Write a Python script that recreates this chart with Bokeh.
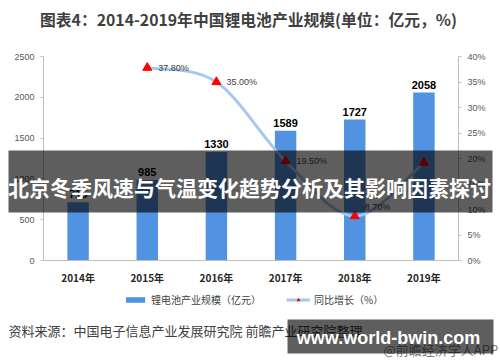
from bokeh.plotting import figure
from bokeh.models import (Range1d, LinearAxis, FixedTicker, PrintfTickFormatter, Label,
                          BoxAnnotation, Legend, LegendItem, ColumnDataSource)
from bokeh.core.properties import value
from bokeh.embed import file_html
from bokeh.resources import INLINE

# ---------------- data ----------------
years = ["2014年", "2015年", "2016年", "2017年", "2018年", "2019年"]
scale = [715, 985, 1330, 1589, 1727, 2058]          # 锂电池产业规模（亿元）
growth_years = ["2015年", "2016年", "2017年", "2018年", "2019年"]
growth = [37.8, 35.0, 19.5, 8.7, 19.2]              # 同比增长（%）
growth_labels = ["37.80%", "35.00%", "19.50%", "8.70%", ""]
left_ticks = [0, 500, 1000, 1500, 2000, 2500]
right_ticks = [0, 5, 10, 15, 20, 25, 30, 35, 40]

title_text = "图表4：2014-2019年中国锂电池产业规模(单位：亿元，%)"
source_text = "资料来源：中国电子信息产业发展研究院 前瞻产业研究院整理"
banner_text = "北京冬季风速与气温变化趋势分析及其影响因素探讨"
url_text = "www.world-bwin.com"
app_text = "@前瞻经济学人APP"

CJK = "Noto Sans CJK SC"
NUM = "Liberation Sans"

W, H = 500, 362
# plot area in canvas pixels
FL, FR, FT, FB = 43, 458, 56, 260

xpos = {y: i + 0.5 for i, y in enumerate(years)}
bar_x = [xpos[y] for y in years]
gx = [xpos[y] for y in growth_years]

nx = len(years)
ymax_l = left_ticks[-1]
ymax_r = right_ticks[-1]
xu = (FR - FL) / nx
yl = (FB - FT) / ymax_l
yr = (FB - FT) / ymax_r

p = figure(width=W, height=H, output_backend="svg", toolbar_location=None,
           x_range=Range1d(-FL / xu, nx + (W - FR) / xu),
           y_range=Range1d(-(H - FB) / yl, ymax_l + FT / yl),
           min_border=0)
p.extra_y_ranges = {"pct": Range1d(-(H - FB) / yr, ymax_r + FT / yr)}
p.title.visible = False
p.outline_line_color = None
p.grid.visible = False
p.xaxis.visible = False
p.yaxis.visible = False
p.background_fill_color = "white"
p.border_fill_color = "white"

def style_axis(ax, size="9px", font=NUM, color="#595959", bold=False):
    ax.minor_tick_line_color = None
    ax.axis_line_color = "#BFBFBF"
    ax.major_tick_line_color = "#BFBFBF"
    ax.major_label_text_font = font
    ax.major_label_text_font_size = size
    ax.major_label_text_color = color
    ax.major_label_text_font_style = "bold" if bold else "normal"

# bottom axis
xa = LinearAxis(ticker=FixedTicker(ticks=bar_x), fixed_location=0, bounds=(0, nx),
                major_label_overrides={xpos[y]: y for y in years})
style_axis(xa, size="10px", font=CJK, color="#262626", bold=True)
xa.major_tick_line_color = None
xa.major_tick_out = 0
xa.major_tick_in = 0
xa.major_label_standoff = 9
p.add_layout(xa, "below")

# left axis
la = LinearAxis(ticker=FixedTicker(ticks=left_ticks), fixed_location=0, bounds=(0, ymax_l))
style_axis(la)
la.major_tick_out = 3
la.major_tick_in = 0
la.major_label_standoff = 6
p.add_layout(la, "left")

# right axis
ra = LinearAxis(y_range_name="pct", ticker=FixedTicker(ticks=right_ticks),
                formatter=PrintfTickFormatter(format="%d%%"), fixed_location=nx,
                bounds=(0, ymax_r))
style_axis(ra)
ra.major_tick_out = 3
ra.major_tick_in = 0
ra.major_label_standoff = 6
p.add_layout(ra, "right")

# bars
bars = p.vbar(x=bar_x, top=scale, width=0.31, fill_color="#5192E1", line_color=None)
p.text(x=bar_x, y=scale, text=[str(v) for v in scale], text_align="center",
       text_baseline="bottom", y_offset=-4, text_font=value(NUM), text_font_style="bold",
       text_font_size="11px", text_color="#000000")

# smoothed growth curve (Catmull-Rom -> cubic Bezier through the data points)
n = len(growth)
bx0, by0, bx1, by1, cx0, cy0, cx1, cy1 = [], [], [], [], [], [], [], []
for i in range(n - 1):
    i0, i3 = max(i - 1, 0), min(i + 2, n - 1)
    bx0.append(gx[i]); by0.append(growth[i])
    bx1.append(gx[i + 1]); by1.append(growth[i + 1])
    cx0.append(gx[i] + (gx[i + 1] - gx[i0]) / 6.0)
    cy0.append(growth[i] + (growth[i + 1] - growth[i0]) / 6.0)
    cx1.append(gx[i + 1] - (gx[i3] - gx[i]) / 6.0)
    cy1.append(growth[i + 1] - (growth[i3] - growth[i]) / 6.0)
curve = p.bezier(x0=bx0, y0=by0, x1=bx1, y1=by1, cx0=cx0, cy0=cy0, cx1=cx1, cy1=cy1,
                 line_color="#A7C7EF", line_width=3, y_range_name="pct")
marks = p.scatter(x=gx, y=growth, marker="triangle", size=9, fill_color="#FF0000",
                  line_color="#FF0000", y_range_name="pct")

label_dx = [11, 10, 11, 10, 10]
label_dy = [0, 0, 0, -9, 0]
src = ColumnDataSource(dict(x=gx, y=growth, t=growth_labels, dx=label_dx, dy=label_dy))
p.text(x="x", y="y", text="t", x_offset="dx", y_offset="dy", source=src,
       text_baseline="middle", text_align="left", text_font=value(NUM),
       text_font_size="9px", text_color="#404040", y_range_name="pct")

# legend
legend = Legend(items=[LegendItem(label="锂电池产业规模（亿元）", renderers=[bars]),
                       LegendItem(label="同比增长（%）", renderers=[curve, marks])],
                orientation="horizontal", location=(123, H - 307),
                border_line_color=None, background_fill_alpha=0,
                padding=0, margin=0, spacing=25, label_standoff=4,
                glyph_width=24, glyph_height=7, label_height=12,
                label_text_font=CJK, label_text_font_size="10px", label_text_color="#404040")
p.add_layout(legend)

# texts (screen units: x from left, y from bottom of canvas)
def lab(text, x, y, size, color, bold=False, align="left", font=CJK):
    l = Label(x=x, y=H - y, x_units="screen", y_units="screen", text=text,
              text_font=font, text_font_size=size, text_color=color,
              text_font_style="bold" if bold else "normal",
              text_align=align, text_baseline="middle")
    p.add_layout(l)
    return l

def box(l, r, t, b):
    p.add_layout(BoxAnnotation(left=l, right=r, top=H - t, bottom=H - b,
                               left_units="screen", right_units="screen",
                               top_units="screen", bottom_units="screen",
                               fill_color="black", fill_alpha=0.63, line_color=None))

lab(title_text, 248, 19, "15.8px", "#3F3F3F", bold=True, align="center")
lab(source_text, 8, 330, "13px", "#404040")
lab(app_text, 383, 349, "13px", "#7F7F7F")

box(8, 492, 150, 212)
lab(banner_text, 249, 186, "21px", "#FFFFFF", bold=True, align="center")

box(287, 493, 319, 353)
lab(url_text, 388, 337, "18px", "#FFFFFF", bold=True, align="center", font=NUM)

open("out.html", "w").write(file_html(p, INLINE))
